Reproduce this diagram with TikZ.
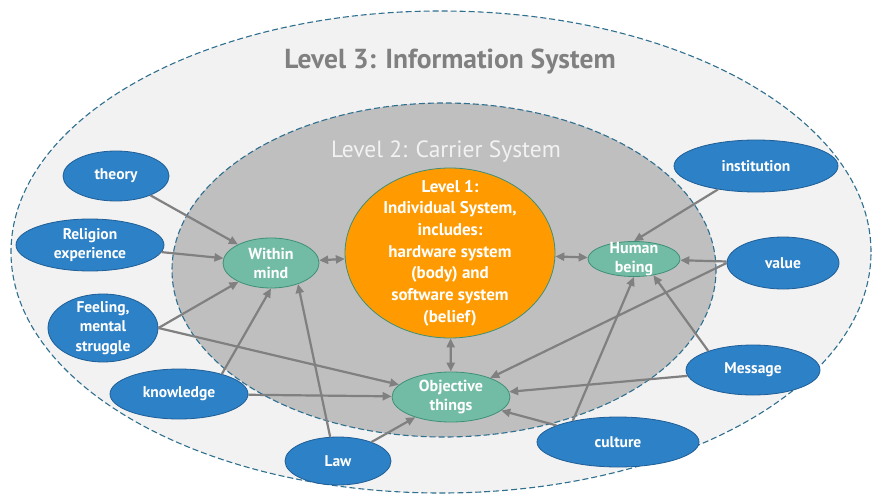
\documentclass[tikz,border=0pt]{standalone}
\usepackage{fontspec}
\setmainfont{PT Sans}
\usetikzlibrary{shapes.geometric, arrows.meta}

\definecolor{infogray}{HTML}{F2F2F2}
\definecolor{carriergray}{HTML}{BFBFBF}
\definecolor{dashblue}{HTML}{2F6F8F}
\definecolor{bluefill}{HTML}{2D81C6}
\definecolor{blueline}{HTML}{1F5E96}
\definecolor{greenfill}{HTML}{72BCA5}
\definecolor{greenline}{HTML}{3F8F78}
\definecolor{orangefill}{HTML}{FF9A00}
\definecolor{arrowgray}{HTML}{808080}

\begin{document}
\begin{tikzpicture}[x=1pt, y=-1pt,
  system/.style={draw=dashblue, line width=1.1pt, dash pattern=on 6pt off 3pt},
  bluenode/.style={ellipse, draw=blueline, line width=0.8pt, fill=bluefill, text=white,
    font=\fontsize{15.5}{19.5}\selectfont\bfseries, align=center, inner sep=-14pt},
  greennode/.style={ellipse, draw=greenline, line width=0.8pt, fill=greenfill, text=white,
    font=\fontsize{16}{19}\selectfont\bfseries, align=center, inner sep=-14pt},
  arr/.style={draw=arrowgray, line width=2.2pt, -{Triangle[length=9pt,width=8pt]}},
  dblarr/.style={draw=arrowgray, line width=2.2pt, {Triangle[length=9pt,width=8pt]}-{Triangle[length=9pt,width=8pt]}}]
  \useasboundingbox (0,0) rectangle (877,497);

  \draw[system, fill=infogray] (441,252) ellipse [x radius=430pt, y radius=241pt];
  \draw[system, fill=carriergray] (444,270) ellipse [x radius=272pt, y radius=167pt];

  \node[text=arrowgray, font=\fontsize{27.5}{32}\selectfont\bfseries] (title3) at (450,62) {Level 3: Information System};
  \node[text=infogray, font=\fontsize{23.5}{28}\selectfont] (title2) at (446,152) {Level 2: Carrier System};

  \node[ellipse, draw=greenline, line width=0.8pt, fill=orangefill, text=white, inner sep=-30pt,
    minimum width=210pt, minimum height=170pt, align=center,
    font=\fontsize{17}{21.7}\selectfont\bfseries] (level1) at (450,253)
    {Level 1:\\Individual System,\\includes:\\hardware system\\(body) and\\software system\\(belief)};

  \node[greennode, minimum width=96pt, minimum height=50pt] (mind) at (271,263) {Within\\mind};
  \node[greennode, minimum width=92pt, minimum height=35pt] (human) at (634,259) {Human\\being};
  \node[greennode, minimum width=118pt, minimum height=50pt] (objective) at (451,397) {Objective\\things};

  \node[bluenode, minimum width=106pt, minimum height=50pt] (theory) at (116,176) {theory};
  \node[bluenode, minimum width=148pt, minimum height=52pt] (religion) at (90,245) {Religion\\experience};
  \node[bluenode, minimum width=110pt, minimum height=68pt] (feeling) at (103,328) {Feeling,\\mental\\struggle};
  \node[bluenode, minimum width=138pt, minimum height=50pt] (knowledge) at (179,394) {knowledge};
  \node[bluenode, minimum width=106pt, minimum height=48pt] (law) at (338,461) {Law};
  \node[bluenode, minimum width=162pt, minimum height=50pt] (culture) at (618,442) {culture};
  \node[bluenode, minimum width=134pt, minimum height=50pt] (message) at (753,370) {Message};
  \node[bluenode, minimum width=112pt, minimum height=52pt] (value) at (783,263) {value};
  \node[bluenode, minimum width=164pt, minimum height=52pt] (institution) at (756,166) {institution};

  \draw[arr] (theory) -- (mind);
  \draw[arr] (religion) -- (mind);
  \draw[arr] (feeling.east) -- (mind);
  \draw[arr] (feeling.east) -- (objective);
  \draw[arr] (knowledge.25) -- (mind.south);
  \draw[arr] (knowledge) -- (objective);
  \draw[arr] (law.108) -- (mind.-38);
  \draw[arr] (law) -- (objective);
  \draw[arr] (culture) -- (objective);
  \draw[arr] (culture.155) -- (human.south);
  \draw[arr] (message) -- (objective);
  \draw[arr] (message.157) -- (human.-40);
  \draw[arr] (value) -- (human);
  \draw[arr] (value.west) -- (objective);
  \draw[arr] (institution) -- (human.north);
  \draw[dblarr] (mind) -- (level1);
  \draw[dblarr] (level1) -- (human);
  \draw[dblarr] (level1) -- (objective);
\end{tikzpicture}
\end{document}
